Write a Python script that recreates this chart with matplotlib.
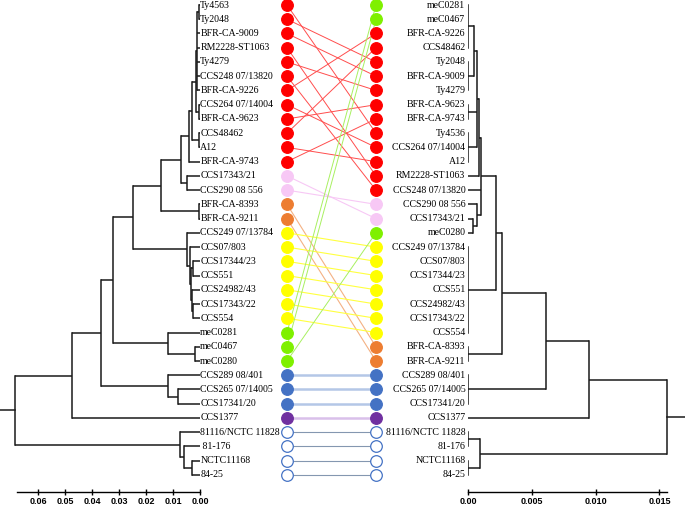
import matplotlib.pyplot as plt

plt.rcParams['font.family'] = ['Liberation Serif', 'DejaVu Serif']

# ---- left dendrogram: (node height, [children]), leaves are strain labels ----
left_red = (0.0041, [
    (0.0030, [
        (0.0015, [
            (0.0011, [(0.0004, ['Ty4563', 'Ty2048']), 'BFR-CA-9009', 'RM2228-ST1063',
                      'Ty4279', 'CCS248 07/13820', 'BFR-CA-9226']),
            (0.0004, ['CCS264 07/14004', 'BFR-CA-9623'])]),
        (0.0004, ['CCS48462', 'A12'])]),
    'BFR-CA-9743'])
left_pink = (0.0048, ['CCS17343/21', 'CCS290 08 556'])
left_orange = (0.0004, ['BFR-CA-8393', 'BFR-CA-9211'])
left_yellow = (0.0048, ['CCS249 07/13784',
                        (0.0037, ['CCS07/803',
                                  (0.0033, [(0.0026, ['CCS17344/23', 'CCS551']),
                                            (0.0030, ['CCS24982/43',
                                                      (0.0026, ['CCS17343/22', 'CCS554'])])])])])
left_green = (0.0119, ['meC0281', (0.0019, ['meC0467', 'meC0280'])])
left_blue = (0.0119, ['CCS289 08/401', (0.0081, ['CCS265 07/14005', 'CCS17341/20'])])
left_white = (0.0074, ['81116/NCTC 11828', (0.0059, [' 81-176', (0.0030, ['NCTC11168', '84-25'])])])

left_tree = (0.0685, [
    (0.0474, [
        (0.0367, [
            (0.0322, [
                (0.0248, [(0.0144, [(0.0070, [left_red, left_pink]), left_orange]), left_yellow]),
                left_green]),
            left_blue]),
        'CCS1377']),
    left_white])

# ---- right dendrogram ----
right_red = (0.0009, [
    (0.0007, [
        (0.0005, [(0.0, ['meC0281', 'meC0467', 'BFR-CA-9226', 'CCS48462']),
                  (0.0, ['Ty2048', 'BFR-CA-9009', 'Ty4279'])]),
        (0.0, ['BFR-CA-9623', 'BFR-CA-9743']),
        (0.0, ['Ty4536', 'CCS264 07/14004', 'A12'])]),
    'RM2228-ST1063'])
right_pink = (0.0007, ['CCS290 08 556', (0.0004, ['CCS17343/21', 'meC0280'])])
right_yellow = (0.0, ['CCS249 07/13784', 'CCS07/803', 'CCS17344/23', 'CCS551',
                      'CCS24982/43', 'CCS17343/22', 'CCS554'])
right_orange = (0.0, ['BFR-CA-8393', 'BFR-CA-9211'])
right_blue = (0.0, ['CCS289 08/401', 'CCS265 07/14005', 'CCS17341/20'])
right_white = (0.00094, [(0.0, ['81116/NCTC 11828', '81-176']), (0.0, ['NCTC11168', '84-25'])])

right_tree = (0.0156, [
    (0.0095, [
        (0.0061, [
            (0.0027, [
                (0.0022, [(0.0010, [right_red, 'CCS248 07/13820', right_pink]), right_yellow]),
                right_orange]),
            right_blue]),
        'CCS1377']),
    right_white])

# ---- groups (dot colours) ----
red_group = ['Ty4563', 'Ty2048', 'BFR-CA-9009', 'RM2228-ST1063', 'Ty4279', 'CCS248 07/13820',
             'BFR-CA-9226', 'CCS264 07/14004', 'BFR-CA-9623', 'CCS48462', 'A12', 'BFR-CA-9743']
pink_group = ['CCS17343/21', 'CCS290 08 556']
orange_group = ['BFR-CA-8393', 'BFR-CA-9211']
yellow_group = ['CCS249 07/13784', 'CCS07/803', 'CCS17344/23', 'CCS551', 'CCS24982/43',
                'CCS17343/22', 'CCS554']
green_group = ['meC0281', 'meC0467', 'meC0280']
blue_group = ['CCS289 08/401', 'CCS265 07/14005', 'CCS17341/20']
purple_group = ['CCS1377']
white_group = ['81116/NCTC 11828', '81-176', 'NCTC11168', '84-25']
aliases = {'Ty4536': 'Ty4563', ' 81-176': '81-176'}

left_ticks = [0.06, 0.05, 0.04, 0.03, 0.02, 0.01, 0.00]
right_ticks = [0.0, 0.005, 0.010, 0.015]
right_ticklabels = ['0.00', '0.005', '0.010', '0.015']

# style per group: dot face, dot edge, link colour, link width
styles = {
    'red': ('#FF0000', '#FF0000', '#FF4D4D', 0.7),
    'pink': ('#F7C8F5', '#F7C8F5', '#F7C8F5', 0.8),
    'orange': ('#ED7D31', '#ED7D31', '#F4B183', 0.8),
    'yellow': ('#FFFF00', '#FFFF00', '#FFFF40', 0.8),
    'green': ('#7FF000', '#7FF000', '#A8F060', 0.7),
    'blue': ('#4472C4', '#4472C4', '#B4C7E7', 1.8),
    'purple': ('#7030A0', '#7030A0', '#D9C0EA', 1.8),
    'white': ('white', '#4472C4', '#8497B0', 0.8),
}
groups = {'red': red_group, 'pink': pink_group, 'orange': orange_group, 'yellow': yellow_group,
          'green': green_group, 'blue': blue_group, 'purple': purple_group, 'white': white_group}
group_of = {n: g for g, names in groups.items() for n in names}


def key(name):
    return aliases.get(name, name)


def draw_tree(ax, node, order, lw=1.1, color='#1a1a1a'):
    if isinstance(node, str):
        order.append(node)
        return 0.0, len(order) - 1
    h, kids = node
    pos = [draw_tree(ax, k, order, lw, color) for k in kids]
    ys = [p[1] for p in pos]
    for ch, cy in pos:
        ax.plot([h, ch], [cy, cy], color=color, lw=lw, solid_capstyle='butt')
    ax.plot([h, h], [ys[0], ys[-1]], color=color, lw=lw, solid_capstyle='projecting')
    return h, (ys[0] + ys[-1]) / 2


W, H = 685, 507
fig = plt.figure(figsize=(W / 100, H / 100), dpi=100)
AXIS_Y = 492


def px_axes(x0, x1, y0=0, y1=AXIS_Y):
    return fig.add_axes([x0 / W, 1 - y1 / H, (x1 - x0) / W, (y1 - y0) / H])


step = 14.24
ylim = ((AXIS_Y - 5) / step, -5 / step)

# left tree
axl = px_axes(0, 200)
left_order = []
h, yroot = draw_tree(axl, left_tree, left_order)
axl.plot([h, 0.0741], [yroot, yroot], color='#1a1a1a', lw=1.1)
axl.set_xlim(0.0741, 0)
axl.set_ylim(*ylim)
for i, name in enumerate(left_order):
    axl.text(-0.00012, i, name, ha='left', va='center', fontsize=7.1, clip_on=False)

# right tree
axr = px_axes(468, 685)
right_order = []
h, yroot = draw_tree(axr, right_tree, right_order)
axr.plot([h, 0.0170], [yroot, yroot], color='#1a1a1a', lw=1.1)
axr.set_xlim(0, 0.0170)
axr.set_ylim(*ylim)
for i, name in enumerate(right_order):
    axr.text(-0.0002, i, name, ha='right', va='center', fontsize=7.1, clip_on=False)

for ax, bounds, ticks in [(axl, (0.0678, 0), left_ticks), (axr, (0, 0.0156), right_ticks)]:
    for s in ['top', 'left', 'right']:
        ax.spines[s].set_visible(False)
    ax.spines['bottom'].set_bounds(*bounds)
    ax.spines['bottom'].set_linewidth(1.0)
    ax.set_yticks([])
    ax.set_xticks(ticks)
    ax.tick_params(axis='x', direction='inout', length=5, width=1.0, pad=1)
    ax.patch.set_visible(False)
axl.set_xticklabels([f'{t:.2f}' for t in left_ticks], fontfamily='Liberation Sans',
                    fontweight='bold', fontsize=6.5)
axr.set_xticklabels(right_ticklabels, fontfamily='Liberation Sans', fontweight='bold', fontsize=6.5)

# middle: links and dots
axm = px_axes(287, 376)
axm.set_xlim(0, 1)
axm.set_ylim(*ylim)
axm.axis('off')
lidx = {key(n): i for i, n in enumerate(left_order)}
ridx = {key(n): i for i, n in enumerate(right_order)}
for name, i in lidx.items():
    face, edge, lc, lw = styles[group_of[name]]
    axm.plot([0, 1], [i, ridx[name]], color=lc, lw=lw, zorder=1)
for side, idx in [(0, lidx), (1, ridx)]:
    for name, i in idx.items():
        face, edge, lc, lw = styles[group_of[name]]
        axm.scatter([side], [i], s=70, c=face, edgecolors=edge, linewidths=0.9,
                    zorder=3, clip_on=False)

fig.savefig('out.png', dpi=100)
